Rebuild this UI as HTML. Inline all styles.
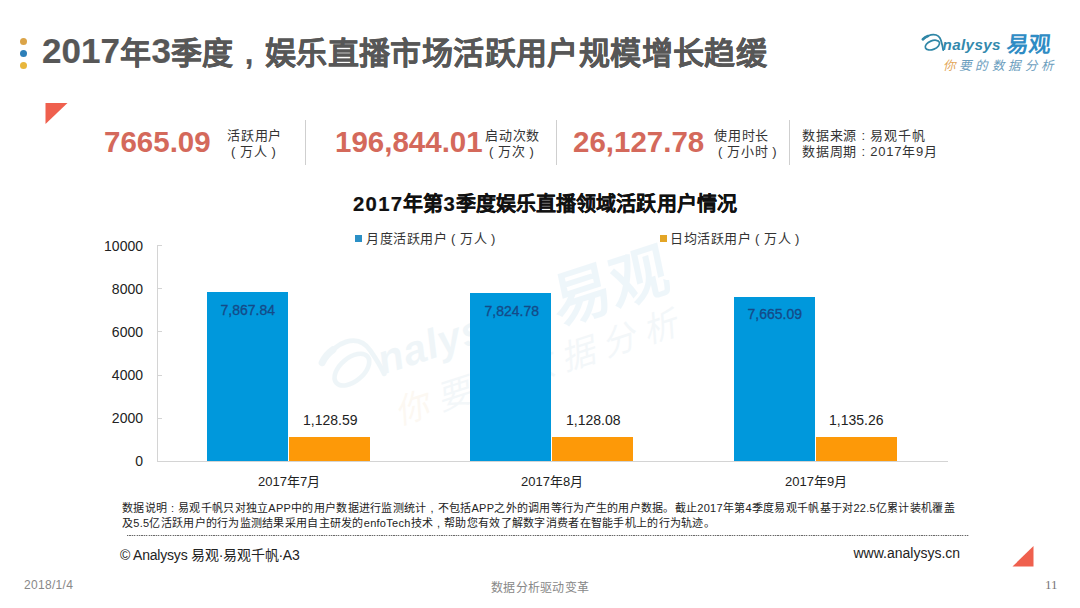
<!DOCTYPE html>
<html lang="zh-CN">
<head>
<meta charset="utf-8">
<style>
*{margin:0;padding:0;box-sizing:border-box;}
html,body{width:1080px;height:608px;overflow:hidden;background:#fff;}
body{position:relative;font-family:"Liberation Sans",sans-serif;color:#333;}
.abs{position:absolute;white-space:nowrap;}
.dot{position:absolute;width:7px;height:7px;border-radius:50%;}
.title{left:42px;top:32px;font-size:31px;letter-spacing:0.4px;-webkit-text-stroke:0.2px #575757;font-weight:bold;color:#575757;line-height:40px;}
.big{font-size:29.5px;letter-spacing:0px;font-weight:bold;color:#d4695b;line-height:34px;}
.lbl{font-size:13px;letter-spacing:0.8px;color:#333;line-height:16.7px;}
.dg{font-size:35px;letter-spacing:0.05px;position:relative;top:-1px;}
.dg2{font-size:20.3px;letter-spacing:1.3px;}
.p{display:inline-block;width:1em;text-align:center;}
.vd{position:absolute;top:120px;width:1px;height:45px;background:#cfcfcf;}
.ctitle{left:353px;top:191px;font-size:20px;letter-spacing:0.05px;-webkit-text-stroke:0.2px #111;font-weight:bold;color:#111;line-height:26px;}
.leg{font-size:13px;letter-spacing:0.5px;color:#333;line-height:16px;}
.ytick{font-size:14px;color:#222;line-height:16px;text-align:right;width:50px;}
.bar{position:absolute;}
.blue{background:#0098dc;}
.orange{background:#fd9908;}
.vlab{font-size:14px;line-height:16px;}
.vin{-webkit-text-stroke:0.3px #154a88;}
.cat{font-size:13px;color:#222;line-height:16px;}
.note{font-size:11px;letter-spacing:0.28px;color:#222;line-height:14.5px;}
.foot{font-size:12px;letter-spacing:0.3px;color:#888;}
</style>
</head>
<body>
<!-- title bullets -->
<div class="dot" style="left:20px;top:38px;background:#dba448;"></div>
<div class="dot" style="left:20px;top:50px;background:#2d7fb8;"></div>
<div class="dot" style="left:20px;top:62px;background:#e8b63c;"></div>
<div class="abs title"><span class="dg">2017</span>年<span class="dg">3</span>季度<span class="p">,</span>娱乐直播市场活跃用户规模增长趋缓</div>

<!-- logo -->
<svg class="abs" style="left:918px;top:30px" width="145" height="45" viewBox="0 0 145 45">
  <path d="M5 9.2 C 8.5 6.4, 12 4.6, 15.5 4.7 C 19.5 4.8, 22 7, 23 10.5 C 24 13.8, 24.8 17, 25.2 20.2" fill="none" stroke="#2f86a6" stroke-width="1.8" stroke-linecap="round"/>
  <path d="M4.8 9.3 C 6.3 7.6, 8 6.6, 10 6" fill="none" stroke="#2f86a6" stroke-width="2.6" stroke-linecap="round"/>
  <ellipse cx="14.4" cy="15.1" rx="7.5" ry="4.3" fill="none" stroke="#2f86a6" stroke-width="1.7" transform="rotate(-22 14.4 15.1)"/>
  <text x="24.6" y="20.4" font-family="Liberation Sans" font-size="15.2" font-weight="bold" font-style="italic" fill="#3389ad" letter-spacing="0.35">nalysys</text>
  <text x="90" y="21.6" font-family="Liberation Sans" font-size="22" font-weight="bold" fill="#2f8cc4" transform="translate(90 0) skewX(-6) translate(-90 0)" letter-spacing="0">易观</text>
  <text x="24.5" y="39.6" font-family="Liberation Sans" font-size="12.5" font-style="italic" fill="#e3a75a">你</text>
  <text x="41" y="39.6" font-family="Liberation Sans" font-size="12.5" font-style="italic" fill="#6b9dbd" letter-spacing="3.4">要的数据分析</text>
</svg>

<!-- triangle top-left -->
<svg class="abs" style="left:45px;top:103px" width="23" height="22"><polygon points="0.5,0 22.5,0 0.5,21" fill="#ef604e"/></svg>

<!-- stats row -->
<div class="abs big" style="left:104px;top:124.5px;">7665.09</div>
<div class="abs lbl" style="left:227px;top:127.5px;">活跃用户<br><span class="p">(</span>万人<span class="p">)</span></div>
<div class="vd" style="left:305px;"></div>
<div class="abs big" style="left:335px;top:124.5px;">196,844.01</div>
<div class="abs lbl" style="left:485px;top:127.5px;">启动次数<br><span class="p">(</span>万次<span class="p">)</span></div>
<div class="vd" style="left:556px;"></div>
<div class="abs big" style="left:573px;top:124.5px;">26,127.78</div>
<div class="abs lbl" style="left:714px;top:127.5px;">使用时长<br><span class="p">(</span>万小时<span class="p">)</span></div>
<div class="vd" style="left:789px;"></div>
<div class="abs lbl" style="left:802px;top:127.5px;">数据来源<span class="p">:</span>易观千帆<br>数据周期<span class="p">:</span>2017年9月</div>

<!-- chart title -->
<div class="abs ctitle"><span class="dg2">2017</span>年第<span class="dg2">3</span>季度娱乐直播领域活跃用户情况</div>

<!-- legend -->
<div class="abs" style="left:355px;top:235px;width:7px;height:7px;background:#2b90c6;"></div>
<div class="abs leg" style="left:366px;top:231px;">月度活跃用户<span class="p">(</span>万人<span class="p">)</span></div>
<div class="abs" style="left:660px;top:235px;width:7px;height:7px;background:#e3a526;"></div>
<div class="abs leg" style="left:670px;top:231px;">日均活跃用户<span class="p">(</span>万人<span class="p">)</span></div>

<!-- watermark -->
<svg class="abs" style="left:474px;top:280px;opacity:0.075;transform-origin:101px 14px;transform:rotate(-18deg) scale(2.72);" width="145" height="45" viewBox="0 0 145 45">
  <path d="M5 9.2 C 8.5 6.4, 12 4.6, 15.5 4.7 C 19.5 4.8, 22 7, 23 10.5 C 24 13.8, 24.8 17, 25.2 20.2" fill="none" stroke="#2f86a6" stroke-width="1.8" stroke-linecap="round"/>
  <path d="M4.8 9.3 C 6.3 7.6, 8 6.6, 10 6" fill="none" stroke="#2f86a6" stroke-width="2.6" stroke-linecap="round"/>
  <ellipse cx="14.4" cy="15.1" rx="7.5" ry="4.3" fill="none" stroke="#2f86a6" stroke-width="1.7" transform="rotate(-22 14.4 15.1)"/>
  <text x="24.6" y="20.4" font-family="Liberation Sans" font-size="15.2" font-weight="bold" font-style="italic" fill="#3389ad" letter-spacing="0.35">nalysys</text>
  <text x="94" y="23" font-family="Liberation Sans" font-size="22" font-weight="bold" fill="#2f8cc4" transform="translate(94 0) skewX(-6) translate(-94 0)" letter-spacing="0">易观</text>
  <text x="24.5" y="39.6" font-family="Liberation Sans" font-size="12.5" font-style="italic" fill="#e3a75a">你</text>
  <text x="41" y="39.6" font-family="Liberation Sans" font-size="12.5" font-style="italic" fill="#6b9dbd" letter-spacing="3.4">要的数据分析</text>
</svg>
<!-- axes -->
<div class="abs" style="left:157px;top:245px;width:1px;height:217px;background:#d4d4d4;"></div>
<div class="abs" style="left:157px;top:461px;width:791px;height:1px;background:#d4d4d4;"></div>

<div class="abs ytick" style="left:93px;top:238px;">10000</div>
<div class="abs ytick" style="left:93px;top:281px;">8000</div>
<div class="abs ytick" style="left:93px;top:324px;">6000</div>
<div class="abs ytick" style="left:93px;top:367px;">4000</div>
<div class="abs ytick" style="left:93px;top:410px;">2000</div>
<div class="abs ytick" style="left:93px;top:453px;">0</div>

<div class="abs" style="left:157px;top:245.0px;width:5px;height:1px;background:#d4d4d4;"></div>
<div class="abs" style="left:157px;top:288.2px;width:5px;height:1px;background:#d4d4d4;"></div>
<div class="abs" style="left:157px;top:331.4px;width:5px;height:1px;background:#d4d4d4;"></div>
<div class="abs" style="left:157px;top:374.6px;width:5px;height:1px;background:#d4d4d4;"></div>
<div class="abs" style="left:157px;top:417.8px;width:5px;height:1px;background:#d4d4d4;"></div>
<!-- bars -->
<div class="bar blue" style="left:207px;top:292px;width:81px;height:169px;"></div>
<div class="bar orange" style="left:289px;top:437px;width:81px;height:24px;"></div>
<div class="bar blue" style="left:470px;top:293px;width:81px;height:168px;"></div>
<div class="bar orange" style="left:552px;top:437px;width:81px;height:24px;"></div>
<div class="bar blue" style="left:734px;top:297px;width:81px;height:164px;"></div>
<div class="bar orange" style="left:816px;top:437px;width:81px;height:24px;"></div>

<div class="abs vlab vin" style="left:220.5px;top:302px;color:#154a88;">7,867.84</div>
<div class="abs vlab vin" style="left:484.5px;top:303px;color:#154a88;">7,824.78</div>
<div class="abs vlab vin" style="left:747.5px;top:306px;color:#154a88;">7,665.09</div>
<div class="abs vlab" style="left:303px;top:412px;color:#222;">1,128.59</div>
<div class="abs vlab" style="left:566px;top:412px;color:#222;">1,128.08</div>
<div class="abs vlab" style="left:829px;top:412px;color:#222;">1,135.26</div>

<div class="abs cat" style="left:258px;top:474px;">2017年7月</div>
<div class="abs cat" style="left:521px;top:474px;">2017年8月</div>
<div class="abs cat" style="left:785px;top:474px;">2017年9月</div>

<!-- note -->
<div class="abs note" style="left:122px;top:501px;">数据说明<span class="p">:</span>易观千帆只对独立APP中的用户数据进行监测统计<span class="p">,</span>不包括APP之外的调用等行为产生的用户数据。截止2017年第4季度易观千帆基于对22.5亿累计装机覆盖<br>及5.5亿活跃用户的行为监测结果采用自主研发的enfoTech技术<span class="p">,</span>帮助您有效了解数字消费者在智能手机上的行为轨迹。</div>
<div class="abs" style="left:127px;top:535px;width:842px;height:1px;background:repeating-linear-gradient(90deg,#6a6a6a 0,#6a6a6a 1.2px,#d0d0d0 1.2px,#d0d0d0 2.4px);"></div>

<div class="abs" style="left:120px;top:544px;font-size:14px;letter-spacing:-0.2px;color:#222;">© Analysys 易观·易观千帆·A3</div>
<div class="abs" style="left:853.5px;top:545px;font-size:14px;color:#222;">www.analysys.cn</div>

<svg class="abs" style="left:1012px;top:546px" width="22" height="21"><polygon points="21.5,0 21.5,20.5 0.5,20.5" fill="#ef604e"/></svg>

<!-- footer -->
<div class="abs foot" style="left:24px;top:578px;">2018/1/4</div>
<div class="abs foot" style="left:491px;top:578px;">数据分析驱动变革</div>
<div class="abs foot" style="left:1045px;top:577px;font-size:13px;color:#777;letter-spacing:0;font-family:'Liberation Serif',serif;">11</div>
</body>
</html>
